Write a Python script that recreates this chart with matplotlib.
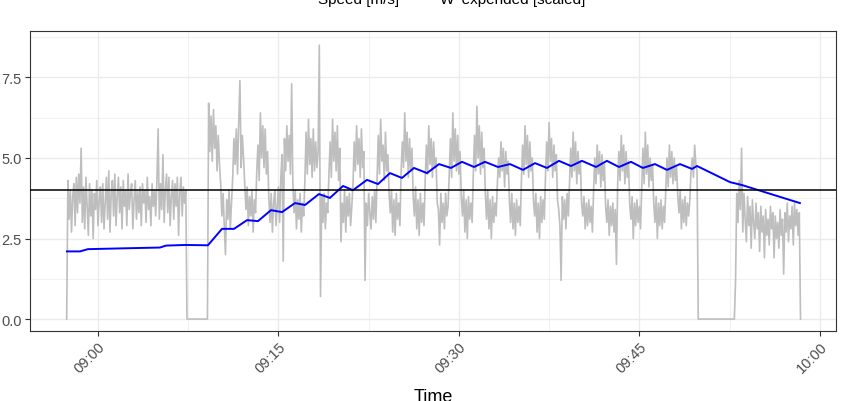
# Speed trace with W' expended overlay (ggplot theme_bw look)
import numpy as np
import pandas as pd
import matplotlib
matplotlib.use("Agg")
import matplotlib.pyplot as plt
import matplotlib.dates as mdates
from matplotlib.ticker import MultipleLocator, FormatStrFormatter

plt.rcParams["font.family"] = ["Liberation Sans", "DejaVu Sans"]

# --------------------------
# Data
# --------------------------
BASE = pd.Timestamp("2021-06-01 09:00:00")
speed_start_min = -2.6      # first sample, minutes after 09:00
speed_step_s = 6            # sample spacing, seconds

speed = [
    # warm-up, -2.6 .. 7.3 min
    0.0, 4.3, 3.1, 4.0, 2.7, 3.8, 4.2, 2.9, 4.4, 3.3,
    4.5, 3.6, 5.3, 3.0, 4.1, 2.8, 4.4, 3.5, 2.6, 4.2,
    3.2, 4.0, 2.5, 3.9, 3.4, 4.3, 2.9, 3.7, 4.1, 3.0,
    4.2, 2.8, 3.6, 4.4, 3.1, 4.6, 2.7, 3.9, 4.3, 3.2,
    4.5, 2.9, 3.8, 4.4, 3.3, 4.1, 2.8, 4.3, 3.5, 4.0,
    2.9, 4.5, 3.4, 3.9, 4.2, 2.8, 3.7, 4.3, 3.1, 4.0,
    3.3, 4.1, 2.9, 4.2, 3.6, 4.0, 3.0, 4.4, 3.4, 3.8,
    2.9, 4.2, 3.5, 4.0, 3.2, 4.3, 5.9, 3.1, 4.2, 3.4,
    5.1, 3.0, 4.0, 4.5, 3.3, 4.4, 2.9, 3.8, 4.3, 3.1,
    4.2, 3.5, 4.4, 2.6, 3.9, 4.4, 3.2, 4.1, 3.6, 4.0,
    # stopped, 7.4 .. 9.1
    0.0, 0.0, 0.0, 0.0, 0.0, 0.0, 0.0, 0.0, 0.0,
    0.0, 0.0, 0.0, 0.0, 0.0, 0.0, 0.0, 0.0, 0.0,
    # intervals, 9.2 .. 49.8 (one row = 2 min: hard part, then easy part)
    6.7, 5.2, 6.3, 4.9, 6.5, 5.3, 6.0, 4.6, 5.7, 4.8, 4.2, 3.2, 3.9, 2.9, 2.0, 3.7, 3.1, 4.0, 2.8, 3.6,
    4.4, 5.6, 4.8, 5.9, 4.5, 6.1, 7.4, 4.7, 5.7, 5.0, 4.2, 3.4, 4.1, 2.9, 3.8, 3.2, 4.0, 2.7, 3.7, 3.3,
    4.6, 5.4, 4.3, 6.4, 5.0, 6.0, 4.7, 5.9, 4.5, 5.2, 3.8, 3.0, 3.9, 2.7, 3.6, 4.0, 2.9, 3.5, 4.1, 3.0,
    4.4, 5.1, 1.8, 5.6, 4.6, 6.0, 4.9, 5.7, 4.5, 7.3, 4.2, 3.3, 4.0, 2.8, 3.7, 3.1, 3.9, 2.7, 3.6, 3.2,
    4.3, 5.8, 4.5, 6.2, 4.8, 5.6, 4.4, 5.9, 4.6, 5.5, 4.7, 5.2, 8.5, 0.7, 3.8, 3.0, 3.9, 2.8, 3.6, 3.3,
    4.5, 5.5, 4.4, 6.2, 4.9, 5.8, 4.6, 6.0, 4.3, 5.3, 2.4, 3.6, 3.0, 4.0, 2.7, 3.8, 3.2, 3.9, 2.9, 3.5,
    4.2, 5.5, 4.6, 6.0, 4.8, 5.6, 4.4, 5.9, 4.7, 5.2, 1.2, 3.6, 2.9, 3.9, 3.3, 2.8, 3.8, 3.1, 4.0, 3.0,
    4.4, 5.7, 4.5, 6.2, 4.9, 5.4, 4.3, 5.8, 4.6, 5.1, 3.9, 3.3, 4.0, 2.7, 3.7, 2.6, 3.9, 3.1, 3.6, 2.9,
    4.6, 5.5, 4.7, 6.4, 4.9, 5.8, 4.4, 5.6, 4.6, 5.3, 3.8, 3.2, 4.1, 2.8, 3.7, 2.6, 3.9, 3.0, 3.6, 2.9,
    4.3, 5.4, 4.5, 6.0, 4.8, 5.6, 4.4, 5.5, 4.7, 5.0, 3.6, 3.4, 2.3, 3.9, 3.0, 3.6, 2.8, 3.9, 3.2, 3.5,
    4.5, 5.6, 4.4, 6.4, 4.9, 5.9, 4.6, 5.7, 4.5, 5.2, 3.8, 3.2, 4.0, 2.7, 3.7, 2.5, 3.8, 3.1, 3.6, 3.0,
    4.5, 5.7, 4.6, 6.6, 5.0, 6.0, 4.5, 5.8, 4.7, 5.3, 3.9, 3.1, 4.0, 2.8, 3.7, 2.5, 3.8, 3.0, 3.6, 3.2,
    4.2, 5.0, 4.4, 5.5, 4.6, 5.3, 4.1, 5.2, 4.5, 4.9, 3.7, 3.0, 3.9, 2.8, 3.6, 2.6, 3.7, 3.0, 3.5, 2.9,
    4.3, 5.4, 4.5, 6.0, 4.8, 5.7, 4.4, 5.5, 4.6, 5.0, 3.7, 3.2, 3.9, 2.7, 3.6, 2.5, 3.8, 3.0, 3.7, 3.1,
    4.4, 5.5, 4.6, 6.1, 4.9, 5.6, 4.4, 5.4, 4.6, 5.1, 3.7, 3.4, 2.9, 1.2, 3.8, 3.1, 3.7, 2.8, 3.9, 3.2,
    4.3, 5.3, 4.4, 5.8, 4.6, 5.5, 4.2, 5.2, 4.5, 4.9, 3.6, 3.2, 3.8, 2.8, 3.6, 2.9, 3.7, 3.0, 3.5, 2.7,
    4.0, 5.0, 4.2, 5.4, 4.5, 5.2, 4.1, 5.1, 4.3, 4.8, 3.5, 3.0, 3.7, 2.6, 3.5, 2.9, 3.6, 2.7, 3.4, 1.7,
    4.2, 5.2, 4.3, 5.7, 4.6, 5.4, 4.2, 5.2, 4.4, 4.9, 3.6, 3.1, 3.8, 2.5, 3.6, 2.9, 3.7, 3.0, 3.5, 2.8,
    4.1, 5.3, 4.2, 5.8, 4.5, 5.4, 4.1, 5.0, 4.3, 4.8, 3.6, 3.0, 3.8, 2.5, 3.6, 2.9, 3.7, 2.8, 3.5, 3.0,
    4.0, 5.0, 4.1, 5.4, 4.4, 5.2, 4.2, 5.0, 4.3, 4.7, 3.8, 3.3, 4.0, 2.8, 3.7, 3.0, 3.8, 2.9, 3.6, 3.2,
    3.7, 4.6, 5.0, 4.4, 5.4, 4.8, 4.6,
    # stopped, 49.9 .. 52.9
    0.0, 0.0, 0.0, 0.0, 0.0, 0.0, 0.0, 0.0, 0.0, 0.0,
    0.0, 0.0, 0.0, 0.0, 0.0, 0.0, 0.0, 0.0, 0.0, 0.0,
    0.0, 0.0, 0.0, 0.0, 0.0, 0.0, 0.0, 0.0, 0.0, 0.0, 0.0,
    # cool-down, 53.0 .. 58.4
    1.2, 3.9, 3.0, 4.3, 3.4, 5.3, 2.7, 3.9, 3.1, 2.4,
    3.8, 2.9, 3.5, 2.2, 3.7, 3.0, 2.5, 3.6, 2.8, 3.3,
    2.1, 3.5, 2.7, 3.2, 1.9, 3.4, 2.6, 3.1, 2.3, 3.5,
    2.8, 3.3, 1.9, 3.2, 2.5, 3.0, 2.2, 3.4, 2.6, 3.1,
    1.4, 3.3, 2.7, 3.6, 2.4, 3.2, 2.8, 3.5, 2.3, 3.6,
    2.9, 3.4, 2.6, 3.3, 0.0,
]

# W' expended (scaled), vertices in minutes after 09:00
wbal_min = [-2.58, -1.50, -0.83, 2.66, 5.15, 5.65, 7.23, 9.14, 10.31, 11.31,
            12.39, 13.30, 14.38, 15.30, 16.38, 17.21, 18.37, 19.28, 20.37, 21.20,
            22.36, 23.28, 24.27, 25.27, 26.27, 27.35, 28.35, 29.34, 30.26, 31.26,
            32.17, 33.25, 34.25, 35.33, 36.33, 37.32, 38.32, 39.32, 40.23, 41.40,
            42.31, 43.31, 44.31, 45.30, 46.30, 47.30, 48.38, 49.38, 49.80, 52.54,
            53.53, 58.35]
wbal_val = [2.10, 2.10, 2.17, 2.20, 2.22, 2.28, 2.30, 2.29, 2.80, 2.80,
            3.07, 3.04, 3.38, 3.32, 3.60, 3.54, 3.88, 3.76, 4.13, 4.00,
            4.32, 4.19, 4.53, 4.38, 4.69, 4.53, 4.81, 4.69, 4.88, 4.72,
            4.88, 4.72, 4.81, 4.63, 4.84, 4.69, 4.91, 4.75, 4.91, 4.72,
            4.91, 4.72, 4.88, 4.69, 4.81, 4.63, 4.81, 4.66, 4.75, 4.25,
            4.16, 3.60]

threshold = 4.0
legend_labels = ["Speed [m/s]", "W' expended [scaled]"]

assert len(speed) == 611, len(speed)

speed_time = BASE + pd.to_timedelta(speed_start_min * 60 + np.arange(len(speed)) * speed_step_s, unit="s")
wbal_time = BASE + pd.to_timedelta(np.array(wbal_min) * 60, unit="s")

# --------------------------
# Plot
# --------------------------
fig = plt.figure(figsize=(8.41, 4.02), dpi=100)
ax = fig.add_axes([30 / 841, 70 / 402, 806 / 841, 300 / 402])

ax.plot(speed_time, speed, color="#BEBEBE", lw=1.2, zorder=3)
ax.plot(wbal_time, wbal_val, color="#0000FF", lw=1.4, zorder=4)
ax.axhline(threshold, color="black", lw=1.1, zorder=5)

ax.set_xlim(BASE - pd.Timedelta(minutes=5.65), BASE + pd.Timedelta(minutes=61.35))
ax.set_ylim(-0.37, 8.94)

ax.xaxis.set_major_locator(mdates.MinuteLocator(byminute=[0, 15, 30, 45]))
ax.xaxis.set_minor_locator(MultipleLocator(7.5 / 1440))
ax.xaxis.set_major_formatter(mdates.DateFormatter("%H:%M"))
ax.yaxis.set_major_locator(MultipleLocator(2.5))
ax.yaxis.set_minor_locator(MultipleLocator(1.25))
ax.yaxis.set_major_formatter(FormatStrFormatter("%.1f"))

ax.grid(True, which="major", color="#EBEBEB", lw=1.0, zorder=0)
ax.grid(True, which="minor", color="#EBEBEB", lw=0.5, zorder=0)
ax.set_axisbelow(True)
for s in ax.spines.values():
    s.set_color("#333333")
    s.set_linewidth(0.8)

ax.tick_params(which="major", length=3.6, width=0.8, color="#333333",
               labelcolor="#4D4D4D", labelsize=10.5, pad=2.5)
ax.tick_params(which="minor", length=0)
for lab in ax.get_xticklabels():
    lab.set_rotation(45)
    lab.set_ha("right")
    lab.set_va("top")
    lab.set_rotation_mode("anchor")

ax.set_xlabel("Time", fontsize=13, color="black")
ax.xaxis.set_label_coords(0.5, -0.19)

# legend sits above the visible area, only the lower part of the text shows
fig.text(318 / 841, 1 - 4 / 402, legend_labels[0], fontsize=11, va="baseline", ha="left")
fig.text(440 / 841, 1 - 4 / 402, legend_labels[1], fontsize=11, va="baseline", ha="left")

fig.savefig("out.png", dpi=100)
